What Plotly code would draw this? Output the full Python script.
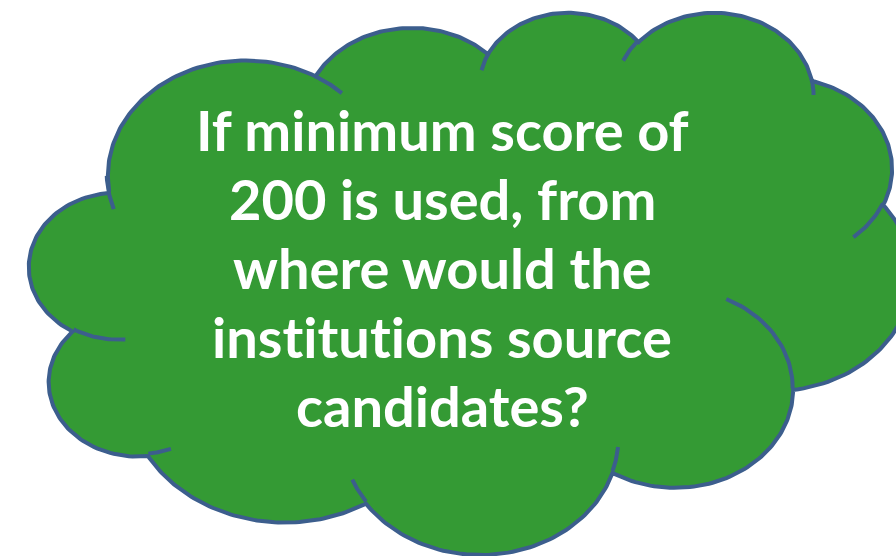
import math
import plotly.graph_objects as go

# ---- text content ----
text_lines = [
    "If minimum score of",
    "200 is used, from",
    "where would the",
    "institutions source",
    "candidates?",
]

# ---- cloud geometry (Office preset "cloud", 43200 x 43200 units) ----
outline_start = (3900, 14370)
outline_arcs = [
    (6753, 9190, -11429249, 7426832),
    (5333, 7267, -8646143, 5396714),
    (4365, 5945, -8748475, 5983381),
    (4857, 6595, -7859164, 7034504),
    (5333, 7273, -4722533, 6541615),
    (6775, 9220, -2776035, 7816140),
    (5785, 7867, 37501, 6842000),
    (6752, 9215, 1347096, 6910353),
    (7720, 10543, 3974558, 4542661),
    (4360, 5918, -16496525, 8804134),
    (4345, 5945, -14809710, 9151131),
]
inner_arcs = [
    ((4693, 26177), (4345, 5945, 5204520, 1585770)),
    ((6928, 34899), (4360, 5918, 4416628, 686848)),
    ((16478, 39090), (6752, 9215, 8257449, 844866)),
    ((28827, 34751), (6752, 9215, 387196, 959901)),
    ((34129, 22954), (5785, 7867, -4217541, 4255042)),
    ((41798, 15354), (5333, 7273, 1819082, 1665090)),
    ((38324, 5426), (4857, 6595, -824660, 891534)),
    ((29078, 3952), (4857, 6595, -8950887, 1091722)),
    ((22141, 4720), (4365, 5945, -9809656, 1061181)),
    ((14000, 5192), (6753, 9190, -4002417, 739161)),
    ((4127, 15789), (6753, 9190, 9338831, 1331845)),
]

# placement of the shape box in the page (pixels)
BOX_X0, BOX_Y0, BOX_W, BOX_H = 29.5, 11, 882, 542
PAGE_W, PAGE_H = 896, 556


def arc_points(cur, wr, hr, st, sw, n=80):
    a0 = math.radians(st / 60000.0)
    da = math.radians(sw / 60000.0)

    def param(a):
        return math.atan2(wr * math.sin(a), hr * math.cos(a))

    t0 = param(a0)
    cx = cur[0] - wr * math.cos(t0)
    cy = cur[1] - hr * math.sin(t0)
    pts = []
    for i in range(1, n + 1):
        a = a0 + da * i / n
        t = param(a)
        pts.append((cx + wr * math.cos(t), cy + hr * math.sin(t)))
    return pts


def to_page(p):
    return (BOX_X0 + p[0] / 43200.0 * BOX_W, BOX_Y0 + p[1] / 43200.0 * BOX_H)


# outline
pts = [outline_start]
cur = outline_start
for wr, hr, st, sw in outline_arcs:
    seg = arc_points(cur, wr, hr, st, sw)
    pts.extend(seg)
    cur = seg[-1]
pts.append(outline_start)
page_pts = [to_page(p) for p in pts]
ox = [p[0] for p in page_pts]
oy = [p[1] for p in page_pts]

# inner arcs
ix, iy = [], []
for start, (wr, hr, st, sw) in inner_arcs:
    seg = [start] + arc_points(start, wr, hr, st, sw, n=30)
    for p in seg:
        q = to_page(p)
        ix.append(q[0])
        iy.append(q[1])
    ix.append(None)
    iy.append(None)

FILL = "#349A34"
EDGE = "#3C5E8D"

fig = go.Figure()
fig.add_trace(go.Scatter(x=ox, y=oy, mode="lines", fill="toself",
                         fillcolor=FILL, line=dict(color=EDGE, width=4),
                         hoverinfo="skip", showlegend=False))
fig.add_trace(go.Scatter(x=ix, y=iy, mode="lines",
                         line=dict(color=EDGE, width=4),
                         hoverinfo="skip", showlegend=False))

TEXT_CX, TEXT_Y0, TEXT_DY = 442, 129, 69
for i, line in enumerate(text_lines):
    shown = line.replace("ti", "t\u200ci")  # avoid the Lato "ti" ligature
    fig.add_annotation(x=TEXT_CX, y=TEXT_Y0 + i * TEXT_DY, text="<b>" + shown + "</b>",
                       showarrow=False, xanchor="center", yanchor="middle",
                       font=dict(family="Lato", size=56, color="white"))

fig.update_xaxes(range=[0, PAGE_W], visible=False, fixedrange=True)
fig.update_yaxes(range=[PAGE_H, 0], visible=False, fixedrange=True)
fig.update_layout(width=PAGE_W, height=PAGE_H, margin=dict(l=0, r=0, t=0, b=0),
                  paper_bgcolor="white", plot_bgcolor="white")

fig.write_html("out.html", config={"displayModeBar": False},
               post_script="document.body.style.margin='0';")
